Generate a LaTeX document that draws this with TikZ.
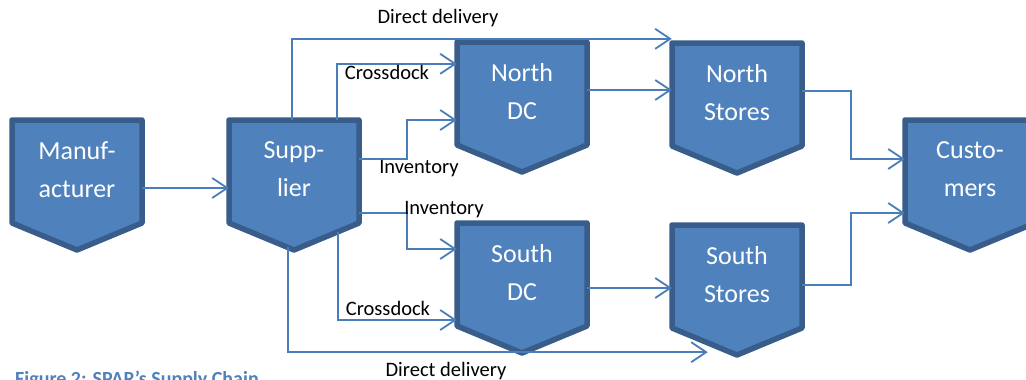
\documentclass[tikz,border=0pt]{standalone}
\usepackage{fontspec}
\setmainfont{Carlito}
\usetikzlibrary{arrows.meta,calc}
\definecolor{boxfill}{HTML}{4F81BD}
\definecolor{boxline}{HTML}{385D8A}
\definecolor{connc}{HTML}{4A7EBB}
\tikzset{
  chevshape/.style={fill=boxfill,draw=boxline,line width=5.5pt,line join=round},
  chevtext/.style={minimum width=130pt,minimum height=103pt,inner sep=0pt,text=white,
    align=center,font=\fontsize{26}{38}\selectfont},
  conn/.style={draw=connc,line width=1.8pt,-{Straight Barb[length=15pt,width=20pt,line width=1.8pt]}},
  lbl/.style={inner sep=0pt,font=\fontsize{20.5}{24}\selectfont},
}
\newcommand\chev[4]{%
  \draw[chevshape] (#2,#3) -- ++(130,0) -- ++(0,103) -- ++(-65,27) -- ++(-65,-27) -- cycle;
  \node[chevtext] (#1) at (#2+65,#3+49.5) {#4};}
\begin{document}
\begin{tikzpicture}[x=1pt,y=-1pt]
\useasboundingbox (0,0) rectangle (1026,380);
\clip (0,0) rectangle (1026,380);
\fill[white] (0,0) rectangle (1026,380);
\chev{man}{12}{120}{Manuf-\\acturer}
\chev{sup}{229}{120}{Supp-\\lier}
\chev{ndc}{457}{42}{North\\DC}
\chev{sdc}{457}{223}{South\\DC}
\chev{nst}{672}{43}{North\\Stores}
\chev{sst}{672}{225}{South\\Stores}
\chev{cus}{905}{120}{Custo-\\mers}
% connectors
\draw[conn] ([yshift=-18.5pt]man.east) -- ([yshift=-18.5pt]sup.west);
\draw[conn] ([xshift=63pt,yshift=-2pt]sup.north west) |- ([yshift=2pt]nst.north west);
\draw[conn] ([xshift=108pt,yshift=-2pt]sup.north west) |- ([yshift=-24pt]ndc.north west);
\draw[conn] ([yshift=10.5pt]sup.east) -- ++(48,0) |- ([yshift=-28.5pt]ndc.west);
\draw[conn] ([yshift=-43.5pt]sup.east) -- ++(48,0) |- ([yshift=23.5pt]sdc.west);
\draw[conn] ([xshift=109pt,yshift=-11pt]sup.south west) |- ([yshift=-47.5pt]sdc.west);
\coordinate (ddend) at ([xshift=36pt,yshift=-26pt]sst.south west);
\draw[conn] ([xshift=-6pt,yshift=-26pt]sup.south) |- (ddend);
\draw[conn] ([yshift=1.5pt]ndc.east) -- ([yshift=1.5pt]ndc.east -| nst.west);
\draw[conn] ([yshift=-15.5pt]sdc.east) -- ([yshift=-15.5pt]sdc.east -| sst.west);
\draw[conn] ([yshift=1.5pt]nst.east) -- ++(49,0) |- ([yshift=10.5pt]cus.west);
\draw[conn] ([yshift=-10.5pt]sst.east) -- ++(49,0) |- ([yshift=-43.5pt]cus.west);
% labels
\node[lbl] (l1) at (438,18) {Direct delivery};
\node[lbl] (l2) at (387,72) {Crossdock};
\node[lbl] (l3) at (419,169) {Inventory};
\node[lbl] (l4) at (444,210) {Inventory};
\node[lbl] (l5) at (388,308) {Crossdock};
\node[lbl] (l6) at (446,371) {Direct delivery};
\node[anchor=base west,inner sep=0pt,text=boxfill,font=\fontsize{20}{24}\selectfont\bfseries] (cap) at (15,385) {Figure 2: SPAR's Supply Chain};
\end{tikzpicture}
\end{document}
